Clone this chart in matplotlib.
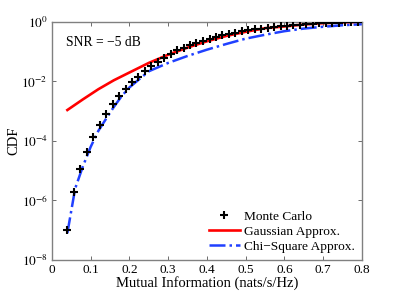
import numpy as np
import matplotlib
matplotlib.use('Agg')
import matplotlib.pyplot as plt

plt.rcParams['font.family'] = ['Liberation Serif', 'DejaVu Serif']
plt.rcParams['mathtext.fontset'] = 'stix'

# Monte Carlo simulation points
mc_x = [0.040, 0.057, 0.073, 0.090, 0.107, 0.123, 0.140, 0.157, 0.173, 0.190,
        0.207, 0.223, 0.240, 0.257, 0.273, 0.290, 0.307, 0.323, 0.340, 0.357,
        0.373, 0.390, 0.407, 0.423, 0.440, 0.457, 0.473, 0.490, 0.507, 0.523,
        0.540, 0.557, 0.573, 0.590, 0.607, 0.623, 0.640, 0.657, 0.673, 0.690,
        0.707, 0.723, 0.740, 0.757, 0.773, 0.790]
mc_cdf = [1.0e-7, 2.0e-6, 1.12e-5, 4.4e-5, 1.32e-4, 3.5e-4, 7.9e-4, 1.78e-3, 3.2e-3, 5.5e-3,
          9.3e-3, 1.45e-2, 2.2e-2, 3.2e-2, 4.4e-2, 6.0e-2, 8.5e-2, 0.110, 0.135, 0.166,
          0.195, 0.229, 0.269, 0.316, 0.355, 0.398, 0.437, 0.479, 0.525, 0.562,
          0.603, 0.646, 0.684, 0.716, 0.750, 0.785, 0.813, 0.841, 0.867, 0.891,
          0.912, 0.931, 0.948, 0.964, 0.977, 0.986]

# Gaussian approximation
ga_x = [0.040, 0.08, 0.12, 0.16, 0.20, 0.25, 0.30, 0.35, 0.40, 0.45,
        0.50, 0.55, 0.60, 0.65, 0.70, 0.75, 0.80]
ga_cdf = [1.1e-3, 2.5e-3, 5.5e-3, 1.1e-2, 2.0e-2, 4.2e-2, 7.9e-2, 0.138, 0.224, 0.339,
          0.468, 0.617, 0.708, 0.822, 0.912, 0.966, 0.993]

# Chi-square approximation
cs_x = [0.040, 0.06, 0.08, 0.10, 0.12, 0.14, 0.16, 0.18, 0.20, 0.25,
        0.30, 0.35, 0.40, 0.45, 0.50, 0.55, 0.60, 0.65, 0.70, 0.75, 0.80]
cs_cdf = [8e-8, 2.5e-6, 1.4e-5, 6.3e-5, 2.2e-4, 5.6e-4, 1.4e-3, 3.2e-3, 6.3e-3, 2.2e-2,
          4.2e-2, 7.2e-2, 0.117, 0.182, 0.275, 0.372, 0.49, 0.60, 0.69, 0.776, 0.84]

fig = plt.figure(figsize=(3.99, 2.93), dpi=100)
ax = fig.add_axes([0.130, 0.1126, 0.777, 0.8124])

ax.semilogy(mc_x, mc_cdf, '+', color='black', markersize=6, markeredgewidth=1.5,
            label='Monte Carlo', zorder=3)
ax.semilogy(ga_x, ga_cdf, '-', color='#ff0000', linewidth=1.9, label='Gaussian Approx.')
ax.semilogy(cs_x, cs_cdf, '-.', color='#2040ff', linewidth=1.8, label='Chi\u2212Square Approx.')

ax.set_xlim(0, 0.8)
ax.set_ylim(1e-8, 1)
ax.set_xticks(np.arange(0, 0.81, 0.1))
ax.set_xticklabels(['0', '0.1', '0.2', '0.3', '0.4', '0.5', '0.6', '0.7', '0.8'])
ax.set_yticks([1e-8, 1e-6, 1e-4, 1e-2, 1e0])
ax.set_yticklabels([r'$10^{-8}$', r'$10^{-6}$', r'$10^{-4}$', r'$10^{-2}$', r'$10^{0}$'])
ax.minorticks_off()
ax.tick_params(direction='in', top=True, right=True, labelsize=9.5, length=3,
               color='#555555', width=0.6, pad=3)
for s in ax.spines.values():
    s.set_color('#808080')
    s.set_linewidth(1.0)

ax.set_xlabel('Mutual Information (nats/s/Hz)', fontsize=10.5, labelpad=0)
ax.set_ylabel('CDF', fontsize=10.5, labelpad=1)
ax.text(0.045, 0.912, 'SNR = \u22125 dB', fontsize=9.8, transform=ax.transAxes,
        va='center')

leg = ax.legend(loc='lower right', frameon=False, fontsize=9.6, handlelength=2.3,
                handletextpad=0.3, labelspacing=0.2, borderaxespad=0.15)

fig.savefig('out.png', dpi=100)
